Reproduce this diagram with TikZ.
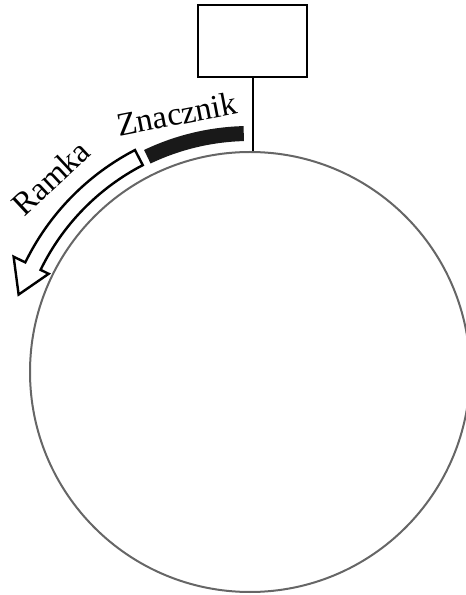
\documentclass[tikz,border=0pt]{standalone}
\usepackage{fontspec}
\setmainfont{Liberation Serif}
\usetikzlibrary{calc}
\tikzset{
    stationbox/.style = {draw, line width=1pt, rectangle, minimum width=54.5pt, minimum height=36pt, inner sep=0pt},
    ringline/.style = {draw=black!60, line width=1pt, circle, minimum size=220pt, inner sep=0pt},
    tokenband/.style = {fill=black!90, draw=none},
    framearrow/.style = {draw, fill=white, line width=1.2pt, line join=miter},
    tag/.style = {font=\fontsize{16.4}{18}\selectfont, inner sep=0pt, anchor=base}
}

\begin{document}
\begin{tikzpicture}[x=0.5pt, y=0.5pt]
    \useasboundingbox (0,0) rectangle (466,595);
    \clip (0,0) rectangle (466,595);

    % Ring and station
    \node[ringline] (ring) at (250,223) {};
    \node[stationbox] (station) at (252.5,554) {};
    \draw[line width=1pt] (station.south) -- (station.south |- ring.north);

    % Token on the ring
    \begin{scope}[shift={(ring.center)}]
        \path[tokenband] (91.5:246) arc[start angle=91.5, end angle=115.5, radius=123pt]
            -- (115.5:231) arc[start angle=115.5, end angle=91.5, radius=115.5pt] -- cycle;

        % Frame travelling round the ring
        \path[framearrow] (117.4:250) arc[start angle=117.4, end angle=154, radius=125pt]
            -- (154:263) -- (161.5:244) -- (154:224) -- (154:233)
            arc[start angle=154, end angle=117.4, radius=116.5pt] -- cycle;
    \end{scope}

    % Labels
    \node[tag, rotate=11] (token) at (179,470) {Znacznik};
    \node[tag, rotate=43] (frame) at (58.5,409) {Ramka};

\end{tikzpicture}
\end{document}
